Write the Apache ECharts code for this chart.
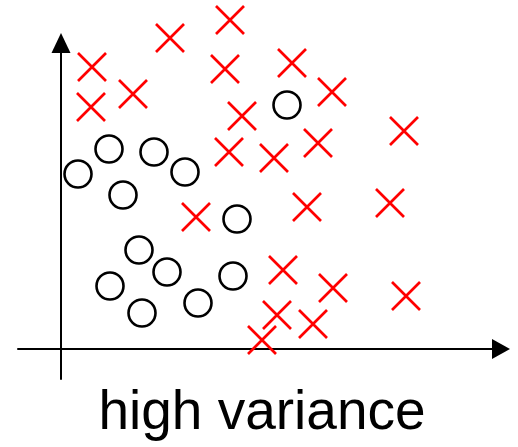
<!DOCTYPE html>
<html>
<head>
<meta charset="utf-8">
<script src="https://cdn.jsdelivr.net/npm/echarts@6/dist/echarts.min.js"></script>
<style>html,body{margin:0;padding:0;background:#fff}#c{width:518px;height:447px}</style>
</head>
<body>
<div id="c"></div>
<script>
// Data (x, y) in axis units
const circleX = [22.6, 4.8, 9.3, 1.7, 12.4, 6.2, 17.6, 7.8, 10.6, 4.9, 17.2, 13.7, 8.1];
const circleY = [24.4, 20.0, 19.7, 17.5, 17.7, 15.4, 13.0, 9.9, 7.7, 6.3, 7.3, 4.6, 3.6];
const crossX = [16.9, 10.9, 3.1, 16.4, 3.0, 7.2, 18.1, 16.8, 13.5, 23.1, 27.1, 25.7, 21.3, 34.3, 24.6, 32.9, 22.2, 27.2, 34.5, 21.6, 25.2, 20.1];
const crossY = [32.9, 31.1, 28.2, 28.0, 24.2, 25.5, 23.3, 19.7, 13.2, 28.6, 25.7, 20.6, 19.1, 21.8, 14.2, 14.6, 7.9, 6.1, 5.3, 3.4, 2.5, 0.9];
const caption = 'high variance';

const chart = echarts.init(document.getElementById('c'), null, {renderer: 'canvas'});
const zip = (xs, ys) => xs.map((x, i) => [x, ys[i]]);
chart.setOption({
  animation: false,
  backgroundColor: '#fff',
  grid: {left: 18, right: 17, top: 43, bottom: 68},
  xAxis: {
    type: 'value', min: -4.3, max: 44,
    axisLine: {show: true, onZero: true, lineStyle: {color: '#000', width: 2},
      symbol: ['none', 'triangle'], symbolSize: [20, 18]},
    axisTick: {show: false}, axisLabel: {show: false}, splitLine: {show: false}
  },
  yAxis: {
    type: 'value', min: -3, max: 30.6,
    axisLine: {show: true, onZero: true, lineStyle: {color: '#000', width: 2},
      symbol: ['none', 'triangle'], symbolSize: [19, 20]},
    axisTick: {show: false}, axisLabel: {show: false}, splitLine: {show: false}
  },
  series: [
    {
      type: 'scatter', clip: false, silent: true,
      data: zip(circleX, circleY),
      symbol: 'circle', symbolSize: 27,
      itemStyle: {color: '#fff', borderColor: '#000', borderWidth: 2.6, opacity: 1}
    },
    {
      type: 'scatter', clip: false, silent: true,
      data: zip(crossX, crossY),
      symbol: 'path://M0,0L10,10M10,0L0,10', symbolSize: 28,
      itemStyle: {color: 'none', borderColor: '#ff0000', borderWidth: 2.7, opacity: 1}
    }
  ],
  graphic: [{
    type: 'text', x: 262, y: 386,
    style: {text: caption, font: '55px "Liberation Sans", Arial, sans-serif', fill: '#000', align: 'center', verticalAlign: 'top'}
  }]
});
</script>
</body>
</html>
